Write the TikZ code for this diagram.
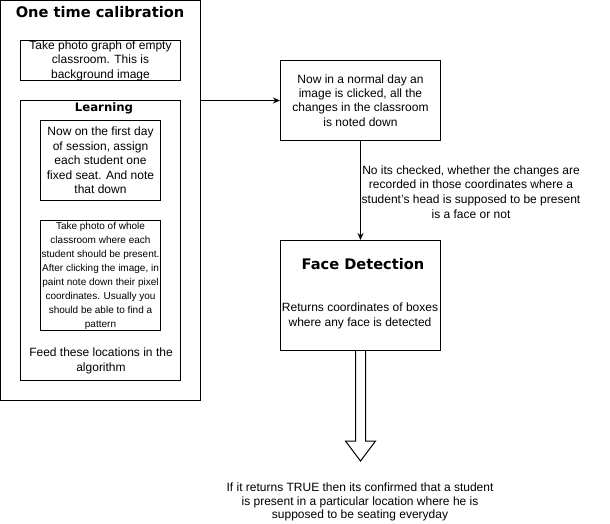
\documentclass[tikz,border=0pt]{standalone}
\usepackage{fontspec}
\setmainfont{Liberation Sans}
\newfontfamily\headfont{DejaVu Sans}
\usetikzlibrary{arrows.meta}

\tikzset{
  box/.style={draw, line width=1pt, inner sep=0pt, align=center,
    font=\fontsize{12}{14.4}\selectfont},
  plain/.style={inner sep=0pt, align=center, font=\fontsize{12}{14.4}\selectfont},
  head/.style={inner sep=0pt, font=\headfont\bfseries\fontsize{14.6}{16}\selectfont},
  flow/.style={line width=1pt, -{Stealth[length=7pt,width=6pt]}}
}

\begin{document}
\begin{tikzpicture}[x=1pt,y=-1pt]
\useasboundingbox (0,0) rectangle (610,523);
% calibration part
\node (calib) [box, minimum width=200pt, minimum height=400pt] at (100.5,200.5) {};
\node (calibtitle) [head] at (100,12) {One time calibration};
\node (bg) [box, minimum width=160pt, minimum height=40pt] at (100.5,60.5)
  {Take photo graph of empty\\ classroom. This is\\ background image};
\node (learn) [box, minimum width=160pt, minimum height=280pt] at (100.5,240.5) {};
\node (learntitle) [head, font=\headfont\bfseries\fontsize{11.7}{14}\selectfont] at (104,108) {Learning};
\node (seat) [box, minimum width=120pt, minimum height=80pt] at (100.5,160.5)
  {Now on the first day\\ of session, assign\\ each student one\\ fixed seat. And note\\ that down};
\node (photo) [box, minimum width=120pt, minimum height=110pt, font=\fontsize{10}{14}\selectfont] at (100.5,275.5)
  {Take photo of whole\\ classroom where each\\ student should be present.\\ After clicking the image, in\\ paint note down their pixel\\ coordinates. Usually you\\ should be able to find a\\ pattern};
\node (feed) [plain] at (101,361) {Feed these locations in the\\ algorithm};
% daily part
\node (normal) [box, minimum width=160pt, minimum height=80pt] at (360.5,100.5)
  {Now in a normal day an\\ image is clicked, all the\\ changes in the classroom\\ is noted down};
\node (face) [box, minimum width=160pt, minimum height=110pt] at (360.5,295.5) {};
\node (facetitle) [head] at (363,264) {Face Detection};
\node (facetext) [plain] at (360,316) {Returns coordinates of boxes\\ where any face is detected};
\node (check) [plain, font=\fontsize{12}{14.7}\selectfont] at (471,192)
  {No its checked, whether the changes are\\ recorded in those coordinates where a\\ student's head is supposed to be present\\ is a face or not};
\node (result) [plain, font=\fontsize{12}{13.6}\selectfont] at (360,502)
  {If it returns TRUE then its confirmed that a student\\ is present in a particular location where he is\\ supposed to be seating everyday};

\draw [flow] (calib.east |- normal.west) -- (normal.west);
\draw [flow] (normal.south) -- (face.north);
% block arrow under face detection
\draw [line width=1pt, line join=miter] ([xshift=-5pt]face.south) -- ++(0,90) -- ++(-10,0)
  -- ++(15,20) -- ++(15,-20) -- ++(-10,0) -- ++(0,-90);
\end{tikzpicture}
\end{document}
